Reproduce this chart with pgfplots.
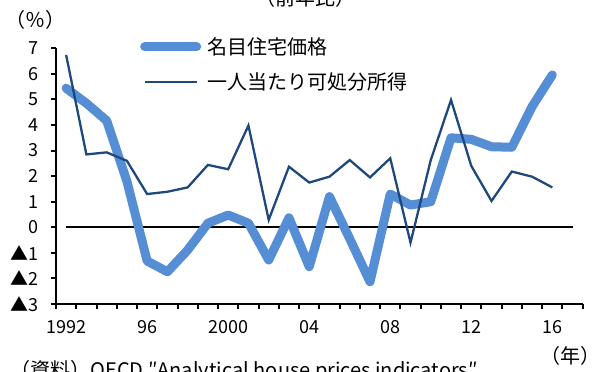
\documentclass[border=0pt]{standalone}
\usepackage{fontspec}
\setmainfont{Noto Sans CJK JP}
\usepackage{pgfplots}
\pgfplotsset{compat=1.18}
\definecolor{house}{HTML}{558ED5}
\definecolor{income}{HTML}{1F497D}
\newcommand{\jfont}{\fontsize{20bp}{24bp}\selectfont}
\newcommand{\nfont}{\fontsize{18bp}{20bp}\selectfont}
\begin{document}
\begin{tikzpicture}
\useasboundingbox (0,0) rectangle (602bp,372bp);
\begin{axis}[
  at={(56bp,68bp)}, anchor=south west,
  scale only axis, width=526.7bp, height=255.7bp,
  xmin=1991.5, xmax=2017.5, ymin=-3, ymax=7,
  axis x line*=bottom, axis y line*=left,
  axis line style={line width=2.4bp, black},
  tick align=outside, major tick length=5bp,
  tick style={line width=2bp, black},
  xtick={1991.5,1992.5,...,2017.5}, xticklabels={},
  extra x ticks={1992,1996,2000,2004,2008,2012,2016},
  extra x tick labels={1992,96,2000,04,08,12,16},
  extra x tick style={major tick length=0pt, tick style={draw=none}},
  ytick={-3,-2,...,7},
  yticklabels={▲3,▲2,▲1,0,1,2,3,4,5,6,7},
  tick label style={font=\nfont, inner sep=0pt},
  yticklabel style={xshift=-12bp},
  xticklabel style={yshift=-16bp},
  clip=false,
  legend style={draw=none, fill=none, at={(0.1538,1.05)}, anchor=north west,
    nodes={inner sep=0pt}, column sep=6bp, row sep=17bp, font=\jfont},
  legend cell align=left,
  legend image code/.code={\draw[#1] (0bp,0bp) -- (52bp,0bp);},
]
\addplot[black, line width=2.2bp, forget plot] coordinates {(1992,0) (2017,0)};
\addplot[house, line width=9bp, line cap=round, line join=round] coordinates {
(1992,5.44) (1993,4.85) (1994,4.17) (1995,1.80) (1996,-1.32) (1997,-1.74)
(1998,-0.89) (1999,0.16) (2000,0.48) (2001,0.16) (2002,-1.28) (2003,0.37)
(2004,-1.54) (2005,1.20) (2006,-0.45) (2007,-2.13) (2008,1.30) (2009,0.87)
(2010,1.00) (2011,3.50) (2012,3.44) (2013,3.15) (2014,3.13) (2015,4.72) (2016,5.96)};
\addlegendentry{名目住宅価格}
\addplot[income, line width=2.3bp] coordinates {
(1992,6.74) (1993,2.85) (1994,2.93) (1995,2.60) (1996,1.30) (1997,1.39)
(1998,1.56) (1999,2.44) (2000,2.27) (2001,3.98) (2002,0.29) (2003,2.37)
(2004,1.75) (2005,1.98) (2006,2.63) (2007,1.95) (2008,2.70) (2009,-0.60)
(2010,2.63) (2011,4.98) (2012,2.40) (2013,1.03) (2014,2.18) (2015,1.98) (2016,1.56)};
\addlegendentry{一人当たり可処分所得}
\end{axis}
\node[font=\jfont, anchor=west] at (2bp,352.5bp) {（％）};
\node[font=\jfont, anchor=base] at (305bp,366.5bp) {（前年比）};
\node[font=\jfont, anchor=east] at (604bp,16bp) {（年）};
\node[font=\jfont, anchor=base west] at (7bp,-5bp) {（資料）OECD ″Analytical house prices indicators″};
\end{tikzpicture}
\end{document}
